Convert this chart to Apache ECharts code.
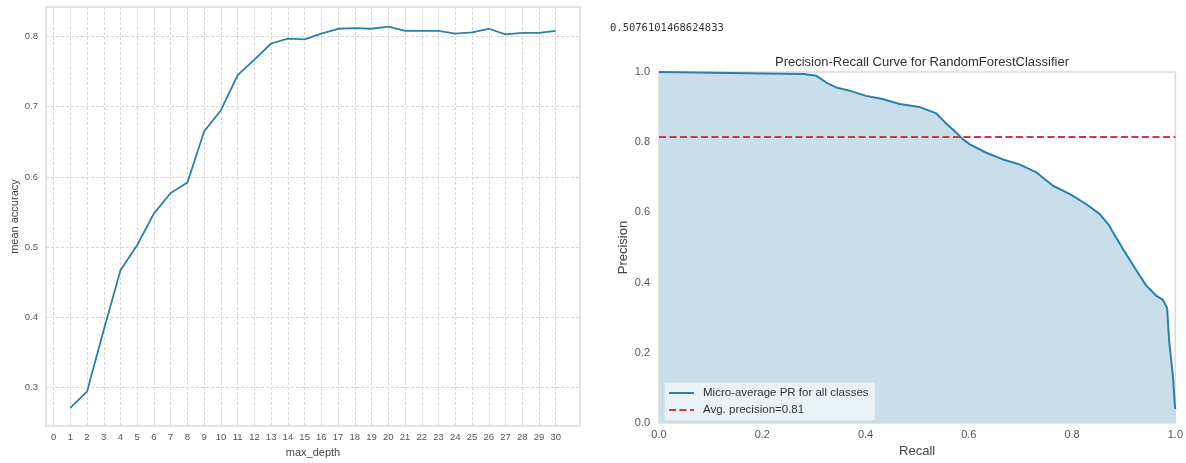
<!DOCTYPE html>
<html>
<head>
<meta charset="utf-8">
<script src="https://cdn.jsdelivr.net/npm/echarts@6/dist/echarts.min.js"></script>
<style>
html,body{margin:0;padding:0;background:#fff;}
#chart{width:1186px;height:463px;}
</style>
</head>
<body>
<div id="chart"></div>
<script>
// ---- Left chart: mean accuracy vs max_depth ----
const depths = [1,2,3,4,5,6,7,8,9,10,11,12,13,14,15,16,17,18,19,20,21,22,23,24,25,26,27,28,29,30];
const meanAccuracy = [0.271,0.294,0.382,0.467,0.503,0.548,0.577,0.592,0.665,0.695,0.745,0.767,0.790,0.797,0.796,0.804,0.811,0.812,0.811,0.814,0.808,0.808,0.808,0.804,0.806,0.811,0.803,0.805,0.805,0.808];
const depthTicks = [0,1,2,3,4,5,6,7,8,9,10,11,12,13,14,15,16,17,18,19,20,21,22,23,24,25,26,27,28,29,30];
const accuracyTicks = [0.3,0.4,0.5,0.6,0.7,0.8];

// ---- Right chart: precision-recall curve ----
const recall = [0,0.108,0.2,0.28,0.305,0.324,0.343,0.369,0.401,0.433,0.466,0.498,0.505,0.536,0.555,0.576,0.589,0.602,0.634,0.666,0.698,0.731,0.763,0.795,0.827,0.853,0.872,0.879,0.898,0.924,0.943,0.962,0.976,0.984,0.988,0.995,0.999,1.0];
const precision = [1.0,0.998,0.996,0.994,0.989,0.970,0.956,0.947,0.932,0.923,0.909,0.902,0.900,0.883,0.855,0.827,0.808,0.794,0.770,0.751,0.737,0.714,0.676,0.653,0.624,0.596,0.563,0.544,0.497,0.436,0.393,0.364,0.351,0.328,0.234,0.139,0.050,0.040];
const avgPrecision = 0.815;
const avgPrecisionLabel = 'Avg. precision=0.81';
const prLabel = 'Micro-average PR for all classes';
const printedScore = '0.5076101468624833';
const prTicks = [0,0.2,0.4,0.6,0.8,1.0];

const FONT = '"Liberation Sans", Arial, sans-serif';
const lineBlue = '#2a80a8';
const avgRed = '#d03a3a';

const chart = echarts.init(document.getElementById('chart'), null, {renderer: 'canvas'});

const prData = recall.map((r, i) => [r, precision[i]]);
const avgData = [[0, avgPrecision], [1, avgPrecision]];
const accData = depths.map((d, i) => [d, meanAccuracy[i]]);

chart.setOption({
  animation: false,
  backgroundColor: '#fff',
  title: {
    text: 'Precision-Recall Curve for RandomForestClassifier',
    left: 917, top: 51, textAlign: 'center',
    textStyle: {fontFamily: FONT, fontSize: 13, fontWeight: 'normal', color: '#333'}
  },
  graphic: [{
    type: 'text', left: 610, top: 23,
    style: {text: printedScore, font: '10.5px "DejaVu Sans Mono", monospace', fill: '#333'}
  }],
  legend: {
    orient: 'vertical',
    left: 665, top: 383,
    itemWidth: 25, itemHeight: 10, itemGap: 5,
    padding: [4, 6, 4, 3],
    backgroundColor: 'rgba(255,255,255,0.6)',
    borderColor: 'rgba(235,235,235,0.9)', borderWidth: 1,
    itemStyle: {opacity: 0},
    textStyle: {fontFamily: FONT, fontSize: 11.5, color: '#333', padding: [0, 0, 0, 4]},
    data: [prLabel, avgPrecisionLabel]
  },
  grid: [
    {left: 46, top: 7, width: 534, height: 426, show: true, borderColor: '#dadada', borderWidth: 1.5, backgroundColor: '#fff', containLabel: false},
    {left: 659, top: 72, width: 517, height: 354, show: true, borderColor: '#dadada', borderWidth: 1.5, backgroundColor: '#fff', containLabel: false}
  ],
  xAxis: [
    {
      gridIndex: 0, type: 'value', min: -0.45, max: 31.45,
      name: 'max_depth', nameLocation: 'middle', nameGap: 19,
      nameTextStyle: {fontFamily: FONT, fontSize: 11, color: '#444'},
      axisLine: {show: false},
      axisTick: {show: false, customValues: depthTicks},
      axisLabel: {customValues: depthTicks, fontFamily: FONT, fontSize: 9.5, color: '#555', margin: 6},
      splitLine: {show: true, lineStyle: {color: '#d6d6d6', type: [3, 2], width: 1}}
    },
    {
      gridIndex: 1, type: 'value', min: 0, max: 1, interval: 0.2,
      name: 'Recall', nameLocation: 'middle', nameGap: 20,
      nameTextStyle: {fontFamily: FONT, fontSize: 13, color: '#444'},
      axisLine: {show: false}, axisTick: {show: false},
      axisLabel: {customValues: prTicks, fontFamily: FONT, fontSize: 11, color: '#555', margin: 6, formatter: v => v.toFixed(1)},
      splitLine: {show: false}
    }
  ],
  yAxis: [
    {
      gridIndex: 0, type: 'value', min: 0.245, max: 0.842,
      name: 'mean accuracy', nameLocation: 'middle', nameGap: 26,
      nameTextStyle: {fontFamily: FONT, fontSize: 11, color: '#444'},
      axisLine: {show: false},
      axisTick: {show: false, customValues: accuracyTicks},
      axisLabel: {customValues: accuracyTicks, fontFamily: FONT, fontSize: 9.5, color: '#555', margin: 8, formatter: v => v.toFixed(1)},
      splitLine: {show: true, lineStyle: {color: '#d6d6d6', type: [3, 2], width: 1}}
    },
    {
      gridIndex: 1, type: 'value', min: 0, max: 1, interval: 0.2,
      name: 'Precision', nameLocation: 'middle', nameGap: 29,
      nameTextStyle: {fontFamily: FONT, fontSize: 13, color: '#444'},
      axisLine: {show: false}, axisTick: {show: false},
      axisLabel: {customValues: prTicks, fontFamily: FONT, fontSize: 11, color: '#555', margin: 9, formatter: v => v.toFixed(1)},
      splitLine: {show: false}
    }
  ],
  series: [
    {
      type: 'line', xAxisIndex: 0, yAxisIndex: 0, data: accData,
      showSymbol: false, symbol: 'none',
      lineStyle: {color: lineBlue, width: 1.8}
    },
    {
      name: prLabel, type: 'line', xAxisIndex: 1, yAxisIndex: 1, data: prData,
      showSymbol: false, symbol: 'none',
      itemStyle: {color: lineBlue},
      lineStyle: {color: lineBlue, width: 2},
      areaStyle: {color: '#c8dfeb', opacity: 1, origin: 'start'},
      z: 2
    },
    {
      name: avgPrecisionLabel, type: 'line', xAxisIndex: 1, yAxisIndex: 1, data: avgData,
      showSymbol: false, symbol: 'none',
      itemStyle: {color: avgRed},
      lineStyle: {color: avgRed, width: 2, type: [7, 3.5]},
      z: 3
    }
  ]
});
</script>
</body>
</html>
